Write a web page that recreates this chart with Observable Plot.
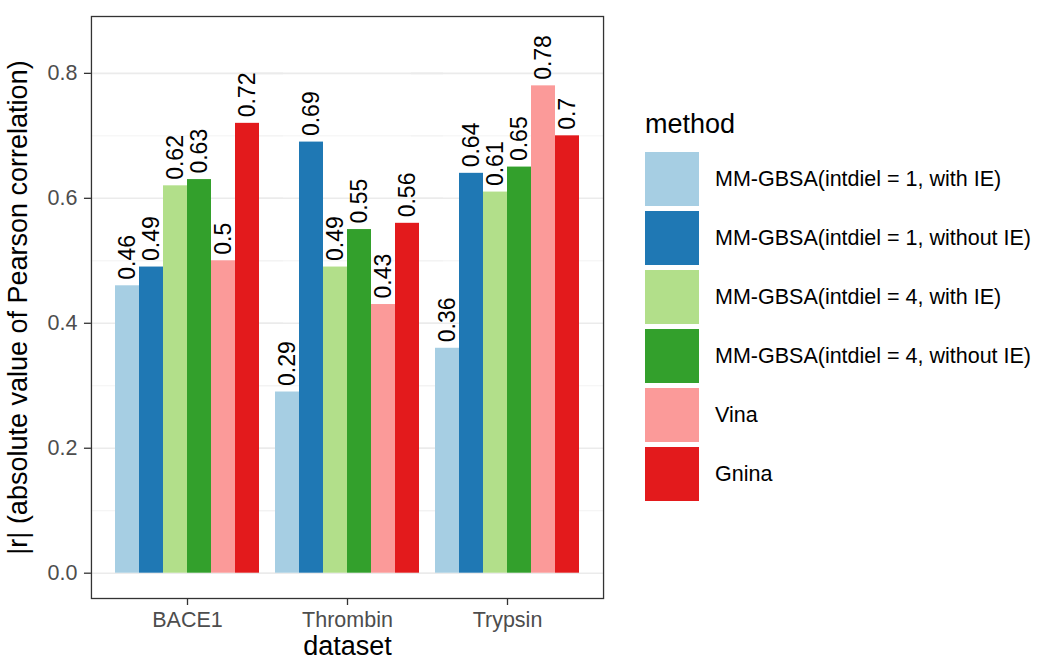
<!DOCTYPE html>
<html>
<head>
<meta charset="utf-8">
<script src="https://cdn.jsdelivr.net/npm/d3@7"></script>
<script src="https://cdn.jsdelivr.net/npm/@observablehq/plot@0.6"></script>
<style>
  html, body { margin: 0; padding: 0; background: white; }
  #wrap { position: relative; width: 1040px; height: 659px; font-family: "Liberation Sans", Arial, Helvetica, sans-serif; }
  #wrap svg g[aria-label="y-axis tick label"],
  #wrap svg g[aria-label="fx-axis tick label"] { font-size: 21.5px; }
  #legend { position: absolute; left: 645px; top: 108px; }
  #legend .ttl { font-size: 27px; line-height: 32px; height: 32px; margin-bottom: 12px; color: #000; }
  #legend .row { display: flex; align-items: center; height: 54px; margin-bottom: 5px; }
  #legend .sw { width: 54px; height: 54px; }
  #legend .lb { margin-left: 16px; font-size: 21.5px; color: #000; white-space: nowrap; }
</style>
</head>
<body>
<div id="wrap"></div>
<script>
const datasets = ["BACE1", "Thrombin", "Trypsin"];
const methods = [
  "MM-GBSA(intdiel = 1, with IE)",
  "MM-GBSA(intdiel = 1, without IE)",
  "MM-GBSA(intdiel = 4, with IE)",
  "MM-GBSA(intdiel = 4, without IE)",
  "Vina",
  "Gnina"
];
const colors = ["#A6CEE3", "#1F78B4", "#B2DF8A", "#33A02C", "#FB9A99", "#E31A1C"];
const bace1Values = [0.46, 0.49, 0.62, 0.63, 0.5, 0.72];
const thrombinValues = [0.29, 0.69, 0.49, 0.55, 0.43, 0.56];
const trypsinValues = [0.36, 0.64, 0.61, 0.65, 0.78, 0.7];
const yTicks = [0, 0.2, 0.4, 0.6, 0.8];
const yMinorTicks = [0.1, 0.3, 0.5, 0.7];
const xTitle = "dataset";
const yTitle = "|r| (absolute value of Pearson correlation)";
const legendTitle = "method";

const valuesByDataset = [bace1Values, thrombinValues, trypsinValues];
const data = datasets.flatMap((d, i) => methods.map((m, j) => ({dataset: d, method: m, value: valuesByDataset[i][j]})));

const W = 1040, H = 659, ML = 90, MR = 437;
const padOuter = 0.15, padInner = 0.1;
const step = (W - ML - MR) / (datasets.length - padInner + 2 * padOuter);
const outerGap = padOuter * step;

const chart = Plot.plot({
  width: W,
  height: H,
  marginLeft: ML,
  marginRight: MR,
  marginTop: 16,
  marginBottom: 61,
  style: {fontFamily: "'Liberation Sans', Arial, Helvetica, sans-serif", background: "white"},
  fx: {domain: datasets, paddingInner: padInner, paddingOuter: padOuter, label: null},
  x: {domain: methods, padding: 0, axis: null},
  y: {domain: [-0.0405, 0.891], axis: null},
  color: {domain: methods, range: colors},
  marks: [
    Plot.ruleY(yMinorTicks, {stroke: "#f2f2f2", strokeWidth: 0.9, insetLeft: -outerGap, insetRight: -outerGap}),
    Plot.ruleY(yTicks, {stroke: "#ebebeb", strokeWidth: 1.6, insetLeft: -outerGap, insetRight: -outerGap}),
    Plot.barY(data, {fx: "dataset", x: "method", y: "value", fill: "method", inset: 0}),
    Plot.text(data, {fx: "dataset", x: "method", y: "value", text: d => String(d.value), rotate: -90, textAnchor: "start", dy: -6, fontSize: 23, fill: "#000"}),
    Plot.frame({facet: "super", stroke: "#333", strokeWidth: 1.3, insetLeft: -outerGap, insetRight: -outerGap}),
    Plot.axisY({ticks: yTicks, tickFormat: d3.format(".1f"), tickSize: 7, tickPadding: 7, dx: -outerGap, fontSize: 21.5, color: "#4d4d4d", stroke: "#333", strokeWidth: 1.3, label: null}),
    Plot.axisFx({anchor: "bottom", tickSize: 7, tickPadding: 6, fontSize: 21.5, color: "#4d4d4d", stroke: "#333", strokeWidth: 1.3, label: null}),
    Plot.text([xTitle], {facet: "super", frameAnchor: "bottom", text: d => d, dy: 56, fontSize: 27, fill: "#000"}),
    Plot.text([yTitle], {facet: "super", frameAnchor: "left", textAnchor: "middle", text: d => d, rotate: -90, dx: 17 - (ML + outerGap), fontSize: 27, fill: "#000"})
  ]
});

const wrap = document.getElementById("wrap");
wrap.appendChild(chart);

const colorScale = chart.scale("color");
const scaleFn = Plot.scale({color: colorScale});
const legend = document.createElement("div");
legend.id = "legend";
const ttl = document.createElement("div");
ttl.className = "ttl";
ttl.textContent = legendTitle;
legend.appendChild(ttl);
for (const m of colorScale.domain) {
  const row = document.createElement("div");
  row.className = "row";
  const sw = document.createElement("div");
  sw.className = "sw";
  sw.style.background = scaleFn.apply(m);
  const lb = document.createElement("div");
  lb.className = "lb";
  lb.textContent = m;
  row.appendChild(sw);
  row.appendChild(lb);
  legend.appendChild(row);
}
wrap.appendChild(legend);
</script>
</body>
</html>
